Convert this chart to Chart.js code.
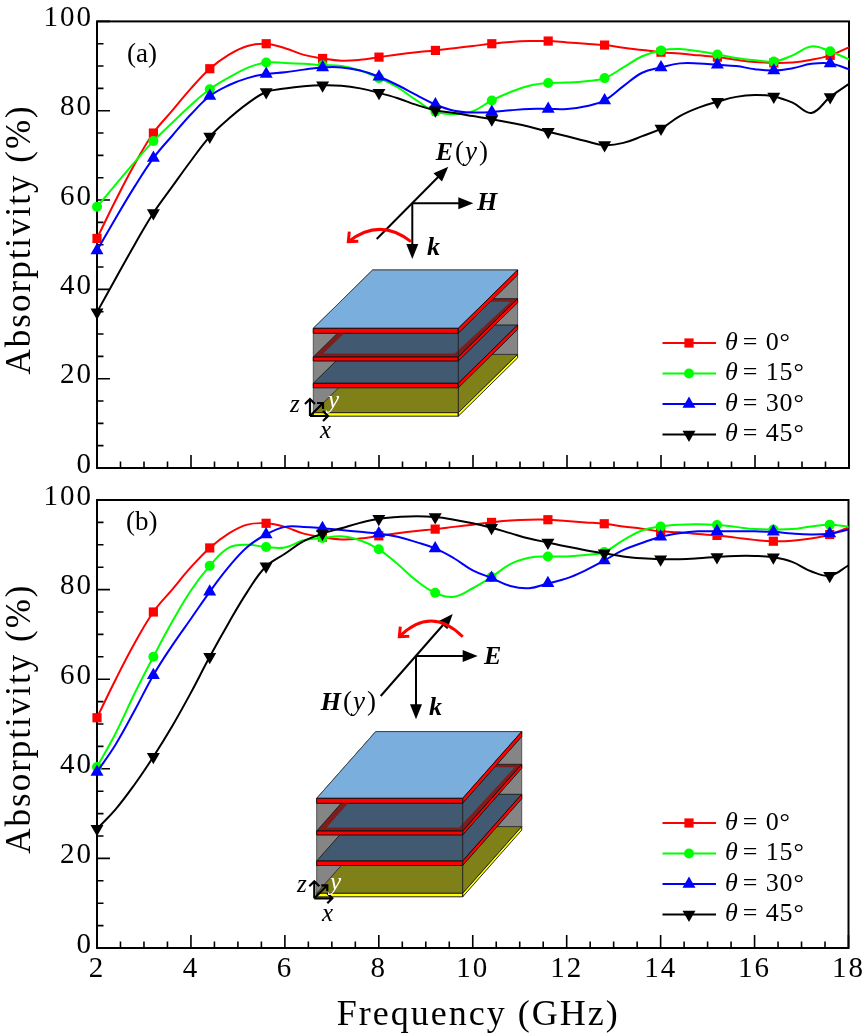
<!DOCTYPE html>
<html>
<head>
<meta charset="utf-8">
<title>Absorptivity</title>
<script src="https://cdn.jsdelivr.net/npm/chart.js@4/dist/chart.umd.min.js"></script>
<style>
  html, body { margin: 0; padding: 0; background: #fff; }
  #page { position: relative; width: 867px; height: 1034px; overflow: hidden; }
  canvas { position: absolute; left: 0; }
</style>
</head>
<body>
<div id="page">
  <canvas id="chart-a" width="867" height="500" style="top:0"></canvas>
  <canvas id="chart-b" width="867" height="562" style="top:472px"></canvas>
</div>
<script>
// valores, cada 0.4 GHz
const freq = [2, 2.4, 2.8, 3.2, 3.6, 4, 4.4, 4.8, 5.2, 5.6, 6, 6.4, 6.8, 7.2, 7.6, 8, 8.4, 8.8, 9.2, 9.6, 10,
  10.4, 10.8, 11.2, 11.6, 12, 12.4, 12.8, 13.2, 13.6, 14, 14.4, 14.8, 15.2, 15.6, 16, 16.4, 16.8, 17.2, 17.6, 18];

const redA = [51.4, 60, 68, 75, 80, 85, 89.4, 92.5, 94.5, 95, 94, 92.5, 91.7, 91.2, 91.4, 92, 92.6, 93.1, 93.5, 94, 94.5,
  95, 95.4, 95.6, 95.6, 95.3, 95, 94.7, 94.1, 93.6, 93.1, 92.8, 92.4, 92, 91.4, 90.9, 90.7, 90.8, 91.4, 92.4, 94.2];
const greenA = [58.5, 63.5, 68.5, 73.2, 77.3, 81.3, 84.8, 87.4, 89.6, 90.8, 90.7, 90.5, 90.2, 90, 89, 87.3, 85.2, 82.3, 79.8, 79.2, 79.9,
  82.3, 84.2, 85.6, 86.2, 86.3, 86.6, 87.3, 89.7, 92.2, 93.5, 93.8, 93.3, 92.6, 91.8, 91.3, 91, 92.4, 94.4, 93.3, 91.5];
const blueA = [48.7, 56, 63, 69.4, 74.4, 79.2, 83.3, 85.7, 87.3, 88.2, 88.6, 89.2, 89.7, 89.7, 89, 87.6, 85.7, 83.5, 81.4, 80, 79.6,
  79.7, 80.1, 80.4, 80.4, 80.4, 81, 82.3, 85.5, 88.5, 89.7, 90.6, 90.6, 90.3, 90, 89.3, 89, 89.5, 90.5, 90.6, 89.3];
const blackA = [34.9, 42.5, 50, 57.1, 63, 68.8, 74.2, 78.2, 81.6, 84.2, 85, 85.5, 85.7, 85.6, 85, 84, 82.8, 81.3, 80.1, 79.5, 78.8,
  78.1, 77.3, 76.4, 75.3, 74.3, 73.2, 72.3, 72.8, 74.3, 76, 78.8, 80.7, 82, 83.1, 83.5, 83.2, 81.8, 79.5, 83.1, 86];

const redB = [51.4, 60, 68, 75, 80, 85, 89.3, 92.5, 94.5, 94.8, 94, 92.5, 91.7, 91.2, 91.4, 92, 92.6, 93.1, 93.5, 94, 94.5,
  95, 95.4, 95.6, 95.6, 95.3, 95, 94.7, 94.1, 93.6, 93, 92.8, 92.4, 92.1, 91.6, 91.1, 90.8, 90.9, 91.4, 92.3, 93.9];
const greenB = [40.4, 48, 56.8, 65, 72.8, 79.8, 85.3, 89.3, 90, 89.5, 89.4, 91, 91.5, 91.9, 91, 89, 85.7, 82, 79.3, 78.4, 80.3,
  82.8, 85.7, 87.1, 87.4, 87.4, 87.7, 88.4, 91, 93.2, 94.1, 94.5, 94.6, 94.4, 94, 93.5, 93.4, 93.5, 94.1, 94.5, 94];
const blueB = [39.3, 45.5, 53, 60.9, 67.5, 73.5, 79.5, 85, 89.5, 92.3, 94, 94, 93.7, 93.3, 92.9, 92.5, 91.8, 90.6, 89.2, 87, 84.3,
  82.6, 80.8, 80.3, 81.4, 82.5, 84.3, 86.5, 88.8, 90.4, 91.8, 92.6, 93, 93, 93, 93, 92.9, 92.5, 92.3, 92.5, 93.4];
const blackB = [26.6, 31, 36.5, 42.7, 49.5, 57, 65, 72.5, 79.5, 85.2, 88, 90.8, 92.5, 93.7, 94.9, 95.8, 96.2, 96.4, 96.2, 95.6, 94.8,
  93.8, 92.6, 91.4, 90.5, 89.6, 88.8, 88.1, 87.4, 87, 86.8, 86.8, 87, 87.3, 87.5, 87.5, 87.2, 86.2, 84.1, 83.1, 85.4];

const angleLabels = ['θ = 0°', 'θ = 15°', 'θ = 30°', 'θ = 45°'];
const seriesColors = ['#ff0000', '#00ff00', '#0000ff', '#000000'];
const xTickLabels = [2, 4, 6, 8, 10, 12, 14, 16, 18];
const yTickLabels = [0, 20, 40, 60, 80, 100];

const serif = '"Liberation Serif", serif';
const pointStyles = ['rect', 'circle', 'triangle', 'triangle'];
const pointSizes = [6.5, 5, 7.5, 7.5];
const pointRotations = [0, 0, 0, 180];

function makeDatasets(values) {
  return values.map(function (v, i) {
    return {
      label: angleLabels[i],
      data: v.map(function (y, k) { return { x: freq[k], y: y }; }),
      borderColor: seriesColors[i],
      backgroundColor: seriesColors[i],
      borderWidth: 2,
      tension: 0.4,
      clip: false,
      order: 4 - i,
      pointStyle: pointStyles[i],
      pointRotation: pointRotations[i],
      pointBorderWidth: 0,
      // marcador cada 1.2 GHz
      pointRadius: function (c) { return c.dataIndex % 3 === 0 ? pointSizes[i] : 0; }
    };
  });
}

function text(ctx, x, y, font, str, color) {
  ctx.font = font;
  ctx.fillStyle = color || '#000';
  ctx.textAlign = 'left';
  ctx.textBaseline = 'middle';
  ctx.fillText(str, x, y);
  return x + ctx.measureText(str).width;
}

function poly(ctx, pts, fill, stroke) {
  ctx.beginPath();
  pts.forEach(function (p, i) { if (i) ctx.lineTo(p[0], p[1]); else ctx.moveTo(p[0], p[1]); });
  ctx.closePath();
  if (fill) { ctx.fillStyle = fill; ctx.fill(); }
  if (stroke) { ctx.strokeStyle = stroke; ctx.lineWidth = 1; ctx.stroke(); }
}

function arrow(ctx, x1, y1, x2, y2) {
  const a = Math.atan2(y2 - y1, x2 - x1), len = 15, hw = 6;
  ctx.strokeStyle = '#000';
  ctx.lineWidth = 2;
  ctx.beginPath();
  ctx.moveTo(x1, y1);
  ctx.lineTo(x2 - Math.cos(a) * len * 0.8, y2 - Math.sin(a) * len * 0.8);
  ctx.stroke();
  poly(ctx, [[x2, y2],
    [x2 - Math.cos(a) * len - Math.sin(a) * hw, y2 - Math.sin(a) * len + Math.cos(a) * hw],
    [x2 - Math.cos(a) * len + Math.sin(a) * hw, y2 - Math.sin(a) * len - Math.cos(a) * hw]], '#000');
}

// esquema de la estructura multicapa (coordenadas de pagina)
function drawStack(ctx, s) {
  const L = s.left, R = s.right, dx = s.dx, dy = s.dy;
  const top = function (y) { return [[L, y], [R, y], [R + dx, y + dy], [L + dx, y + dy]]; };
  function layer(y, h) {
    poly(ctx, [[L, y], [R, y], [R, y + h], [L, y + h]], '#ff0000', '#111');
    poly(ctx, [[R, y], [R + dx, y + dy], [R + dx, y + dy + h], [R, y + h]], '#ff0000', '#111');
  }
  // pared del fondo
  poly(ctx, [[L, s.y1], [L + dx, s.y1 + dy], [R + dx, s.y1 + dy], [R + dx, s.y5 + dy], [R, s.y5], [L, s.y5]], '#858585', '#555');
  // sustrato y lamina amarilla
  poly(ctx, top(s.y5), '#808018', '#333');
  poly(ctx, [[L, s.y5], [R, s.y5], [R, s.y5 + 3.5], [L, s.y5 + 3.5]], '#ffff00', '#222');
  poly(ctx, [[R, s.y5], [R + dx, s.y5 + dy], [R + dx, s.y5 + dy + 3.5], [R, s.y5 + 3.5]], '#ffff00', '#222');
  // capa inferior
  poly(ctx, top(s.y3), '#415a72', '#222');
  layer(s.y3, 4.5);
  // capa con anillo
  poly(ctx, top(s.y2), '#7f1d1d', '#222');
  poly(ctx, [[L + 10, s.y2 - 3.5], [R - 3.5, s.y2 - 3.5], [R + dx - 7, s.y2 + dy + 3], [L + dx + 4, s.y2 + dy + 3]], '#415a72');
  layer(s.y2, 4);
  // capa superior
  poly(ctx, top(s.y1), '#7aaedc', '#444');
  layer(s.y1, 5);
  ctx.strokeStyle = '#222';
  ctx.lineWidth = 1;
  ctx.beginPath();
  ctx.moveTo(R, s.y1); ctx.lineTo(R, s.y5 + 3.5);
  ctx.stroke();
}

function drawMiniAxes(ctx, m) {
  ctx.strokeStyle = '#000';
  ctx.lineWidth = 2.2;
  const seg = function (x1, y1, x2, y2, hx, hy) {
    ctx.beginPath();
    ctx.moveTo(x1, y1); ctx.lineTo(x2, y2);
    ctx.moveTo(x2 + hx[0], y2 + hx[1]); ctx.lineTo(x2, y2); ctx.lineTo(x2 + hy[0], y2 + hy[1]);
    ctx.stroke();
  };
  seg(m.x, m.y, m.x, m.y - 17, [-5, 5], [5, 5]);
  seg(m.x, m.y, m.x + 18, m.y, [-5, -5], [-5, 5]);
  seg(m.x, m.y, m.x + 13, m.y - 13, [-6, 0], [0, 6]);
  const f = 'italic 25px ' + serif;
  text(ctx, m.zx, m.zy, f, 'z');
  text(ctx, m.yx, m.yy, f, 'y', '#fff');
  text(ctx, m.xx, m.xy, f, 'x');
}

function redArc(ctx, a) {
  ctx.strokeStyle = '#ff0000';
  ctx.lineWidth = 3;
  ctx.beginPath();
  ctx.moveTo(a.x1, a.y1);
  ctx.quadraticCurveTo(a.cx, a.cy, a.x2, a.y2);
  ctx.moveTo(a.x2 + 1, a.y2 - 10);
  ctx.lineTo(a.x2, a.y2);
  ctx.lineTo(a.x2 + 10, a.y2 - 0.5);
  ctx.stroke();
}

const boldIt = 'italic bold 26px ' + serif;
const plainMath = '27px ' + serif;
const italicMath = 'italic 27px ' + serif;

function fieldLabel(ctx, x, y, letter) {
  x = text(ctx, x, y, boldIt, letter);
  x = text(ctx, x + 2, y, plainMath, '(');
  x = text(ctx, x + 1, y, italicMath, 'y');
  text(ctx, x + 2, y, plainMath, ')');
}

const panels = {
  a: {
    top: 0, tag: '(a)', tagX: 127, tagY: 55,
    stack: { left: 313.3, right: 458.3, dx: 59.3, dy: -58.3, y1: 328.3, y2: 357, y3: 383.3, y5: 412.7 },
    mini: { x: 310, y: 416, zx: 290, zy: 405, yx: 328, yy: 401, xx: 320, xy: 431 },
    arc: { x1: 411, y1: 241.7, cx: 380, cy: 217, x2: 348.3, y2: 241.7 },
    field: function (ctx) {
      arrow(ctx, 376.7, 239, 448.3, 166.7);
      arrow(ctx, 412.3, 203.3, 473.3, 203.3);
      arrow(ctx, 412.3, 203.3, 412.3, 259);
      fieldLabel(ctx, 435.7, 153, 'E');
      text(ctx, 477, 203.5, boldIt, 'H');
      text(ctx, 427, 248, boldIt, 'k');
    }
  },
  b: {
    top: 472, tag: '(b)', tagX: 126, tagY: 523,
    stack: { left: 316.7, right: 462.7, dx: 59, dy: -66.7, y1: 798.3, y2: 831, y3: 861, y5: 893.3 },
    mini: { x: 314.3, y: 898.3, zx: 297, zy: 885, yx: 330, yy: 883, xx: 322, xy: 914 },
    arc: { x1: 462.7, y1: 636.7, cx: 431, cy: 605.3, x2: 399.3, y2: 636.7 },
    field: function (ctx) {
      arrow(ctx, 380.7, 696, 452.7, 614);
      arrow(ctx, 416, 656, 477.7, 656);
      arrow(ctx, 416, 656, 416, 719.3);
      fieldLabel(ctx, 320.7, 703, 'H');
      text(ctx, 484, 657, boldIt, 'E');
      text(ctx, 429, 708, boldIt, 'k');
    }
  }
};

// marco, marcas hacia adentro, leyenda y esquema
const framePlugin = {
  id: 'framePlugin',
  beforeDraw: function (chart) { chart.ctx.letterSpacing = '2px'; },
  beforeDatasetsDraw: function (chart, args, opts) {
    const ctx = chart.ctx, area = chart.chartArea, p = panels[opts.panel];
    ctx.save();
    ctx.letterSpacing = '0px';
    ctx.strokeStyle = '#000';
    ctx.lineWidth = 1.6;
    ctx.beginPath();
    chart.scales.x.ticks.forEach(function (t) {
      const px = chart.scales.x.getPixelForValue(t.value);
      ctx.moveTo(px, area.bottom);
      ctx.lineTo(px, area.bottom - (xTickLabels.includes(t.value) ? 13 : 6.5));
    });
    chart.scales.y.ticks.forEach(function (t) {
      const py = chart.scales.y.getPixelForValue(t.value);
      ctx.moveTo(area.left, py);
      ctx.lineTo(area.left + (yTickLabels.includes(t.value) ? 13 : 6.5), py);
    });
    ctx.stroke();
    ctx.lineWidth = 2;
    ctx.strokeRect(area.left, area.top, area.right - area.left, area.bottom - area.top);

    ctx.translate(0, -p.top);
    drawStack(ctx, p.stack);
    drawMiniAxes(ctx, p.mini);
    p.field(ctx);
    redArc(ctx, p.arc);
    text(ctx, p.tagX, p.tagY, '27px ' + serif, p.tag);
    ctx.restore();
  },
  afterDatasetsDraw: function (chart) {
    const ctx = chart.ctx, area = chart.chartArea;
    ctx.save();
    chart.data.datasets.forEach(function (ds, i) {
      const y = area.bottom - 125 + i * 30.5;
      ctx.strokeStyle = ds.borderColor;
      ctx.lineWidth = 2;
      ctx.beginPath();
      ctx.moveTo(662.5, y);
      ctx.lineTo(716, y);
      ctx.stroke();
      ctx.fillStyle = ds.backgroundColor;
      Chart.helpers.drawPoint(ctx, { pointStyle: ds.pointStyle, rotation: ds.pointRotation, radius: pointSizes[i], borderWidth: 0 }, 689, y);
      const parts = ds.label.split(' = ');
      ctx.letterSpacing = '0.9px';
      const x = text(ctx, 725, y, 'italic 26px ' + serif, parts[0]);
      text(ctx, x + 4, y, '26px ' + serif, '= ' + parts[1]);
    });
    ctx.restore();
  }
};

function makeChart(id, values, panel, xHeight, topPad, withXLabels) {
  return new Chart(document.getElementById(id), {
    type: 'line',
    data: { datasets: makeDatasets(values) },
    plugins: [framePlugin],
    options: {
      responsive: false,
      animation: false,
      devicePixelRatio: 1,
      events: [],
      layout: { padding: { left: 0, right: 18, top: topPad, bottom: 0 } },
      plugins: {
        legend: { display: false },
        tooltip: { enabled: false },
        framePlugin: { panel: panel }
      },
      scales: {
        x: {
          type: 'linear',
          min: 2,
          max: 18,
          afterFit: function (s) { s.height = xHeight; },
          grid: { display: false, drawTicks: false },
          border: { display: false },
          ticks: {
            stepSize: 0.5,
            autoSkip: false,
            maxRotation: 0,
            padding: 4,
            color: '#000',
            font: { family: serif, size: 29 },
            callback: function (v) { return withXLabels && xTickLabels.includes(v) ? String(v) : ''; }
          },
          title: {
            display: withXLabels,
            text: ' Frequency (GHz)',
            color: '#000',
            font: { family: serif, size: 36 },
            padding: { top: 0, bottom: -3 }
          }
        },
        y: {
          min: 0,
          max: 100,
          afterFit: function (s) { s.width = 97; },
          grid: { display: false, drawTicks: false },
          border: { display: false },
          ticks: {
            stepSize: 5,
            autoSkip: false,
            padding: 4,
            labelOffset: -3,
            color: '#000',
            font: { family: serif, size: 29 },
            callback: function (v) { return yTickLabels.includes(v) ? String(v) : ''; }
          },
          title: {
            display: true,
            text: ' Absorptivity (%)',
            color: '#000',
            font: { family: serif, size: 35 },
            padding: { top: 0, bottom: 0 }
          }
        }
      }
    }
  });
}

makeChart('chart-a', [redA, greenA, blueA, blackA], 'a', 32, 20, false);
makeChart('chart-b', [redB, greenB, blueB, blackB], 'b', 86, 28, true);
</script>
</body>
</html>
